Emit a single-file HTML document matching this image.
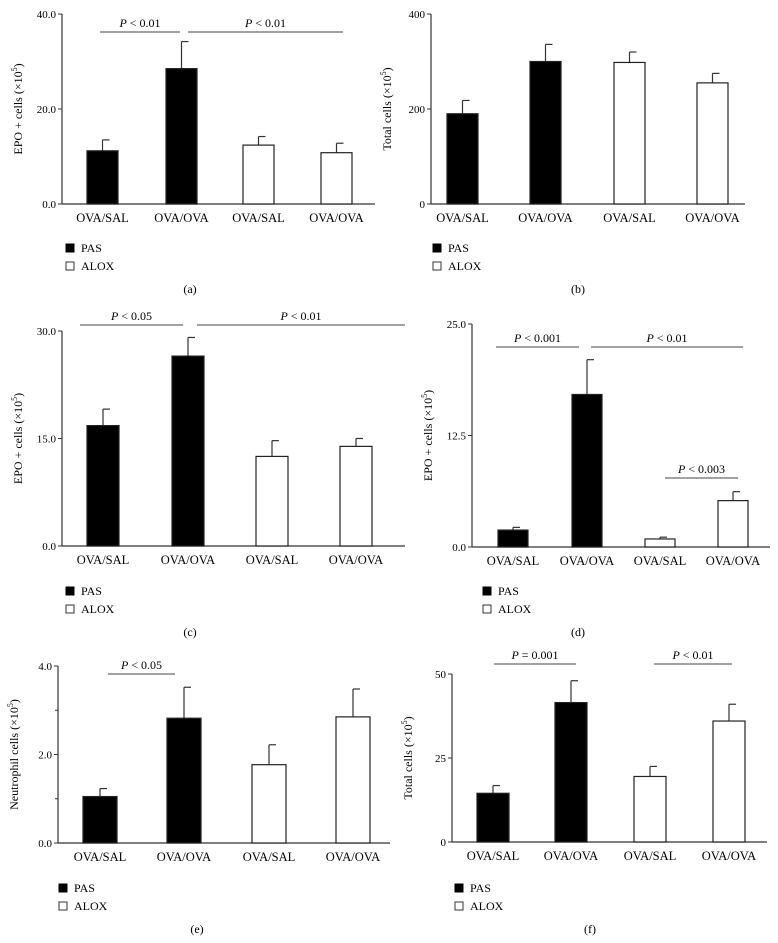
<!DOCTYPE html>
<html><head><meta charset="utf-8"><style>
html,body{margin:0;padding:0;background:#fff}
svg{display:block;font-family:"Liberation Serif",serif}
</style></head><body>
<svg id="fig" width="778" height="943" viewBox="0 0 778 943" xmlns="http://www.w3.org/2000/svg"></svg>
<script>
const categories = ["OVA/SAL","OVA/OVA","OVA/SAL","OVA/OVA"];
const groupFill = ["#000","#000","#fff","#fff"];
const valuesA = [11.2, 28.5, 12.4, 10.8];
const errorsA = [2.3, 5.7, 1.8, 2.0];
const ticksA = [0, 20, 40];
const tickLabelsA = ["0.0","20.0","40.0"];
const valuesB = [190, 300, 298, 255];
const errorsB = [28, 36, 22, 20];
const ticksB = [0, 200, 400];
const tickLabelsB = ["0","200","400"];
const valuesC = [16.8, 26.5, 12.5, 13.9];
const errorsC = [2.3, 2.6, 2.2, 1.1];
const ticksC = [0, 15, 30];
const tickLabelsC = ["0.0","15.0","30.0"];
const valuesD = [1.9, 17.1, 0.9, 5.2];
const errorsD = [0.3, 3.9, 0.2, 1.0];
const ticksD = [0, 12.5, 25];
const tickLabelsD = ["0.0","12.5","25.0"];
const valuesE = [1.05, 2.82, 1.77, 2.85];
const errorsE = [0.18, 0.7, 0.45, 0.63];
const ticksE = [0, 2, 4];
const tickLabelsE = ["0.0","2.0","4.0"];
const valuesF = [14.5, 41.5, 19.5, 36];
const errorsF = [2.3, 6.5, 3.0, 5.0];
const ticksF = [0, 25, 50];
const tickLabelsF = ["0","25","50"];

const NS = "http://www.w3.org/2000/svg";
const svg = document.getElementById('fig');
function mk(tag, attrs, parent, text){
  const e = document.createElementNS(NS, tag);
  for (const k in attrs) e.setAttribute(k, attrs[k]);
  if (text !== undefined) e.textContent = text;
  parent.appendChild(e);
  return e;
}

function panel(p){
  const g = mk('g', {}, svg);
  
  
  const max = p.ticks[p.ticks.length-1];
  const y = v => p.bottom - (v/max)*(p.bottom - p.top);
  // y axis
  const ax = mk('line', {x1:p.ax, y1:p.top, x2:p.ax, y2:p.bottom, stroke:'#333', 'stroke-width':1.2}, g);
  
  
  const xa = mk('line', {x1:p.ax, y1:p.bottom, x2:p.right, y2:p.bottom, stroke:'#333', 'stroke-width':1.2}, g);
  
  
  p.ticks.forEach((t,i)=>{
    mk('line', {x1:p.ax-4, y1:y(t), x2:p.ax, y2:y(t), stroke:'#333'}, g);
    const tl = mk('text', {x:p.ax-6, y:y(t)+4, 'text-anchor':'end', 'font-size':11}, g, p.tickLabels[i]);
    
    
  });
  if (p.minor) p.minor.forEach(t=>mk('line', {x1:p.ax-3, y1:y(t), x2:p.ax, y2:y(t), stroke:'#333'}, g));
  // y title
  const cy = (p.top+p.bottom)/2;
  const yt = mk('text', {x:p.ax-40, y:cy, 'text-anchor':'middle', 'font-size':12, transform:`rotate(-90 ${p.ax-40} ${cy})`}, g);
  
  
  mk('tspan', {}, yt, p.ytitle + ' (\u00d710');
  mk('tspan', {dy:-5, 'font-size':8}, yt, '5');
  mk('tspan', {dy:5}, yt, ')');
  // bars
  p.values.forEach((v,i)=>{
    const x0 = p.bx[i], w = p.bw;
    const xc = x0 + w/2;
    const top = y(v), et = y(v + p.errors[i]);
    const el = mk('line', {x1:xc, y1:et, x2:xc, y2:top, stroke:'#333', 'stroke-width':1.2}, g);
    
    
    mk('line', {x1:xc, y1:et, x2:xc+7, y2:et, stroke:'#333', 'stroke-width':1.2}, g);
    const r = mk('rect', {x:x0, y:top, width:w, height:p.bottom-top, fill:groupFill[i], stroke:'#222', 'stroke-width':1.2}, g);
    
    
    const cl = mk('text', {x:xc, y:p.bottom+18, 'text-anchor':'middle', 'font-size':12.5}, g, categories[i]);
    
    
  });
  // significance
  p.sig.forEach(s=>{
    const sl = mk('line', {x1:s[0], y1:s[2], x2:s[1], y2:s[2], stroke:'#444', 'stroke-width':1}, g);
    
    
    const st = mk('text', {x:(s[0]+s[1])/2, y:s[2]-5, 'text-anchor':'middle', 'font-size':12}, g);
    
    
    mk('tspan', {'font-style':'italic'}, st, 'P');
    mk('tspan', {}, st, ' ' + s[3]);
  });
  // legend
  const lg = mk('g', {}, g);
  
  
  mk('rect', {x:p.lx, y:p.ly-4, width:8, height:8, fill:'#000', stroke:'#000'}, lg);
  mk('text', {x:p.lx+15, y:p.ly+4, 'font-size':12}, lg, 'PAS');
  mk('rect', {x:p.lx, y:p.ly+14, width:8, height:8, fill:'#fff', stroke:'#333'}, lg);
  mk('text', {x:p.lx+15, y:p.ly+22, 'font-size':12}, lg, 'ALOX');
  const cap = mk('text', {x:p.capx, y:p.capy, 'text-anchor':'middle', 'font-size':12}, g, '(' + p.id + ')');
  
  
}

panel({id:'a', ax:62, top:14, bottom:204, right:375, ticks:ticksA, tickLabels:tickLabelsA, values:valuesA, errors:errorsA,
  bx:[87,166,243,321], bw:31, ytitle:'EPO + cells', sig:[[100,180,32,'< 0.01'],[188,343,32,'< 0.01']], lx:66, ly:248, capx:190, capy:293});
panel({id:'b', ax:431, top:14, bottom:204, right:745, ticks:ticksB, tickLabels:tickLabelsB, values:valuesB, errors:errorsB,
  bx:[447,530,614,697], bw:31, ytitle:'Total cells', sig:[], lx:433, ly:248, capx:578, capy:293});
panel({id:'c', ax:62, top:331, bottom:546, right:405, ticks:ticksC, tickLabels:tickLabelsC, values:valuesC, errors:errorsC,
  bx:[87,172,256,340], bw:32, ytitle:'EPO + cells', sig:[[80,183,325,'< 0.05'],[197,405,325,'< 0.01']], lx:66, ly:591, capx:190, capy:636});
panel({id:'d', ax:472, top:324, bottom:547, right:770, ticks:ticksD, tickLabels:tickLabelsD, values:valuesD, errors:errorsD,
  bx:[498,572,645,718], bw:30, ytitle:'EPO + cells', sig:[[496,579,347,'< 0.001'],[591,743,347,'< 0.01'],[665,738,478,'< 0.003']], lx:483, ly:591, capx:578, capy:636});
panel({id:'e', ax:58, top:666, bottom:843, right:390, ticks:ticksE, tickLabels:tickLabelsE, values:valuesE, errors:errorsE, minor:[1,3],
  bx:[83,167,252,336], bw:34, ytitle:'Neutrophil cells', sig:[[108,175,674,'< 0.05']], lx:59, ly:888, capx:197, capy:933});
panel({id:'f', ax:452, top:674, bottom:842, right:767, ticks:ticksF, tickLabels:tickLabelsF, values:valuesF, errors:errorsF,
  bx:[477,555,634,713], bw:32, ytitle:'Total cells', sig:[[494,576,664,'= 0.001'],[654,732,664,'< 0.01']], lx:455, ly:888, capx:590, capy:933});
</script>
</body></html>
